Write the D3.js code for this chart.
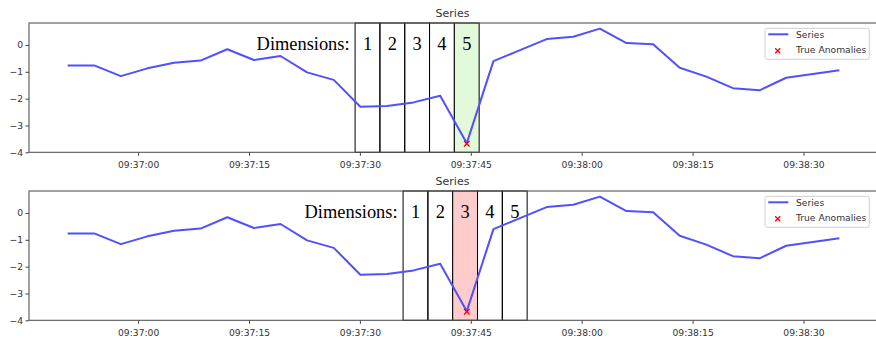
<!DOCTYPE html>
<html><head><meta charset="utf-8">
<script src="https://cdn.jsdelivr.net/npm/d3@7"></script>
<style>body{margin:0;background:#fff}svg{display:block}</style>
</head><body>
<svg id="chart" width="876" height="339"></svg>
<script>
// ---- data ----
const times = ["09:36:50.460","09:36:54.060","09:36:57.660","09:37:01.260","09:37:04.860","09:37:08.460",
 "09:37:12.060","09:37:15.660","09:37:19.260","09:37:22.860","09:37:26.460","09:37:30.060",
 "09:37:33.660","09:37:37.260","09:37:40.860","09:37:44.460","09:37:48.060","09:37:51.660",
 "09:37:55.260","09:37:58.860","09:38:02.460","09:38:06.060","09:38:09.660","09:38:13.260",
 "09:38:16.860","09:38:20.460","09:38:24.060","09:38:27.660","09:38:31.260","09:38:34.860"];
const seriesValues = [-0.76,-0.76,-1.16,-0.87,-0.66,-0.58,-0.16,-0.56,-0.41,-1.02,-1.30,-2.30,
 -2.27,-2.14,-1.89,-3.66,-0.60,-0.19,0.22,0.31,0.61,0.07,0.03,-0.85,-1.18,-1.61,-1.69,-1.22,-1.08,-0.94];
const anomalyTimes = ["09:37:44.460"];
const anomalyValues = [-3.68];
const yTicks = [0,-1,-2,-3,-4];
const dimensionLabels = ["1","2","3","4","5"];
const panelBoxStart = ["09:37:29.350","09:37:35.840"];   // time where the dimension strip starts
const boxSeconds = 3.356;
const highlightIndex = [4, 2];
const highlightColors = ["#e3f9dc", "#ffcccc"];
const titleText = "Series";
const legendLabels = ["Series","True Anomalies"];

// ---- layout ----
const parse = d3.timeParse("%H:%M:%S.%L");
const T = times.map(parse);
const svg = d3.select("#chart");
const W = 876;
const left = 29, right = 878;
const panelTops = [23, 191];
const ph = 129.3;
const font = "'DejaVu Sans', sans-serif";
const txt = "#333";

const ext = d3.extent(T);
const span = ext[1]-ext[0];
const x = d3.scaleTime()
  .domain([new Date(+ext[0]-span*0.05), new Date(+ext[1]+span*0.05)])
  .range([left, right]);

panelTops.forEach((top, p) => {
  const g = svg.append("g");
  const y = d3.scaleLinear().domain([-4, 0.82]).range([top+ph, top]);

  // title
  g.append("text").attr("x", (left+right)/2 - 1).attr("y", top-6)
    .attr("text-anchor","middle").attr("font-family",font).attr("font-size",11)
    .attr("fill",txt).text(titleText);

  // dimension boxes
  const start = parse(panelBoxStart[p]);
  const bx = i => x(new Date(+start + i*boxSeconds*1000));
  dimensionLabels.forEach((lab, i) => {
    const x0 = bx(i), x1 = bx(i+1);
    g.append("rect").attr("x", x0).attr("y", top).attr("width", x1-x0).attr("height", ph)
      .attr("fill", i===highlightIndex[p] ? highlightColors[p] : "none")
      .attr("stroke","#000").attr("stroke-width",1);
    g.append("text").attr("x",(x0+x1)/2).attr("y", top+27.3)
      .attr("text-anchor","middle").attr("font-family","'Liberation Serif', serif")
      .attr("font-size",18.4).attr("fill","#000").text(lab);
  });
  g.append("text").attr("x", bx(0)-5.5).attr("y", top+27.3)
    .attr("text-anchor","end").attr("font-family","'Liberation Serif', serif")
    .attr("font-size",18.4).attr("fill","#000").text("Dimensions:");

  // line
  const line = d3.line().x((d,i)=>x(T[i])).y(d=>y(d));
  g.append("path").datum(seriesValues).attr("d", line)
    .attr("fill","none").attr("stroke","rgb(80,80,255)").attr("stroke-width",2)
    .attr("stroke-linejoin","round");

  // anomalies
  anomalyTimes.forEach((t,i)=>{
    const cx = x(parse(t)), cy = y(anomalyValues[i]), s = 2.8;
    g.append("path").attr("d",`M${cx-s},${cy-s}L${cx+s},${cy+s}M${cx-s},${cy+s}L${cx+s},${cy-s}`)
      .attr("stroke","red").attr("stroke-width",1.3);
  });

  // axes
  const xa = g.append("g").attr("transform",`translate(0,${top+ph})`)
    .call(d3.axisBottom(x).ticks(d3.timeSecond.every(15)).tickFormat(d3.timeFormat("%H:%M:%S")).tickSize(3.5).tickSizeOuter(0));
  const ya = g.append("g").attr("transform",`translate(${left},0)`)
    .call(d3.axisLeft(y).tickValues(yTicks).tickFormat(d=>d<0?"\u2212"+Math.abs(d):d).tickSize(3.5).tickSizeOuter(0));
  [xa,ya].forEach(a=>{
    a.select(".domain").remove();
    a.selectAll("line").attr("stroke","#444");
    a.selectAll("text").attr("font-family",font).attr("font-size",9.2).attr("fill",txt);
  });
  xa.selectAll("text").attr("dy","1.0em");
  ya.selectAll("text").attr("x",-6);

  // frame
  g.append("rect").attr("x",left).attr("y",top).attr("width",right-left).attr("height",ph)
    .attr("fill","none").attr("stroke","#555").attr("stroke-width",1.1);

  // legend
  const lg = g.append("g");
  lg.append("rect").attr("x",765).attr("y",top+5.3).attr("width",104.3).attr("height",31)
    .attr("rx",2).attr("fill","#fff").attr("fill-opacity",0.8).attr("stroke","#d0d0d0");
  lg.append("line").attr("x1",768.3).attr("x2",788.3).attr("y1",top+11.3).attr("y2",top+11.3)
    .attr("stroke","rgb(80,80,255)").attr("stroke-width",2);
  const mx = 777.7, my = top+27.7, ms = 2.5;
  lg.append("path").attr("d",`M${mx-ms},${my-ms}L${mx+ms},${my+ms}M${mx-ms},${my+ms}L${mx+ms},${my-ms}`)
    .attr("stroke","red").attr("stroke-width",1.3);
  legendLabels.forEach((l,i)=>{
    lg.append("text").attr("x",796).attr("y",top+14.6+i*15.6)
      .attr("font-family",font).attr("font-size",9.2).attr("fill",txt).text(l);
  });
});
</script>
</body></html>
